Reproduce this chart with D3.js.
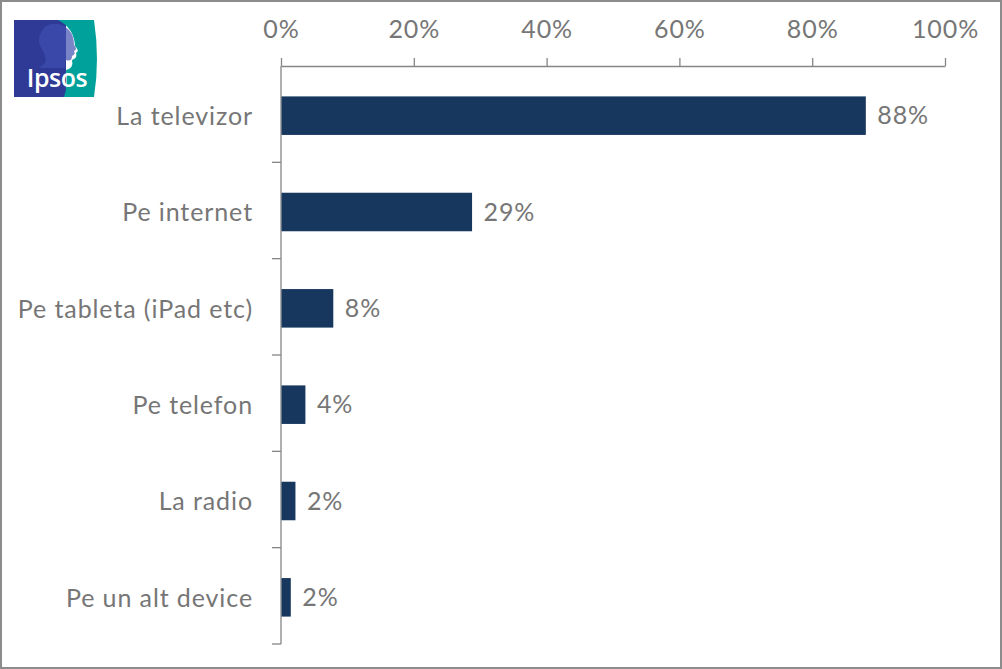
<!DOCTYPE html>
<html><head><meta charset="utf-8">
<script src="https://cdn.jsdelivr.net/npm/d3@7"></script>
<style>body{margin:0;background:#fff}svg{display:block}</style>
</head><body>
<svg id="chart" width="1002" height="669"></svg>
<script>
const categories = ["La televizor","Pe internet","Pe tableta (iPad etc)","Pe telefon","La radio","Pe un alt device"];
const values = [88.0, 28.7, 7.8, 3.6, 2.1, 1.4];
const valueLabels = ["88%","29%","8%","4%","2%","2%"];
const tickValues = [0,20,40,60,80,100];
const tickLabels = ["0%","20%","40%","60%","80%","100%"];

const svg = d3.select("#chart");
const W = 1002, H = 669;
const font = "Lato, 'Open Sans', sans-serif";
const textColor = "#767676", axisColor = "#868686";
const fs = 25, ls = 0.9;

svg.append("rect").attr("x",1).attr("y",1).attr("width",W-2).attr("height",H-2)
  .attr("fill","#fff").attr("stroke","#8c8c8c").attr("stroke-width",2);

const x0 = 281, x1 = 945, yTop = 66, yBot = 644;
const x = d3.scaleLinear().domain([0,100]).range([x0,x1]);
const y = d3.scaleBand().domain(categories).range([yTop+1.5,yBot+1.5]).paddingInner(0.6).paddingOuter(0.3);
const yb = d3.scaleBand().domain(categories).range([yTop,yBot]);

// top axis
const gx = svg.append("g").attr("transform",`translate(0,${yTop})`)
  .call(d3.axisTop(x).tickValues(tickValues).tickFormat((d,i)=>tickLabels[i]).tickSizeInner(8).tickSizeOuter(0).tickPadding(20));
gx.select(".domain").attr("stroke",axisColor).attr("stroke-width",1.3);
gx.selectAll(".tick line").attr("stroke",axisColor).attr("stroke-width",1.3);
gx.selectAll("text").attr("fill",textColor).attr("font-family",font).attr("font-size",fs).attr("letter-spacing",ls);

// left axis
const gy = svg.append("g").attr("transform",`translate(${x0},0)`);
gy.append("line").attr("x1",0).attr("x2",0).attr("y1",yTop).attr("y2",yBot).attr("stroke",axisColor).attr("stroke-width",1.3);
const bounds = categories.map(c=>yb(c)+yb.bandwidth());
gy.selectAll("line.tk").data(bounds).join("line").attr("class","tk")
  .attr("x1",-9).attr("x2",0).attr("y1",d=>d).attr("y2",d=>d).attr("stroke",axisColor).attr("stroke-width",1.3);
gy.selectAll("text").data(categories).join("text")
  .attr("x",-28).attr("y",d=>yb(d)+yb.bandwidth()/2+2).attr("dy","0.35em")
  .attr("text-anchor","end").attr("fill",textColor).attr("font-family",font).attr("font-size",fs).attr("letter-spacing",ls).text(d=>d);

// bars
svg.append("g").selectAll("rect").data(values).join("rect")
  .attr("x",x0+0.5).attr("y",(d,i)=>y(categories[i])).attr("height",y.bandwidth())
  .attr("width",d=>x(d)-x0).attr("fill","#17375E");
svg.append("g").selectAll("text").data(values).join("text")
  .attr("x",d=>x(d)+12).attr("y",(d,i)=>y(categories[i])+y.bandwidth()/2).attr("dy","0.35em")
  .attr("fill",textColor).attr("font-family",font).attr("font-size",fs).attr("letter-spacing",ls).text((d,i)=>valueLabels[i]);

// logo
const logo = svg.append("g").attr("transform","translate(14,20)");
logo.append("rect").attr("width",52).attr("height",77).attr("fill","#2e3a96");
logo.append("path").attr("d","M44,0 L80,0 Q86,40 80,77 L50,77 Q54,66 52,50 Q60,48 58,40 Q64,38 62,33 Q66,31 61,26 Q60,8 44,0 Z").attr("fill","#00a19a");
logo.append("path").attr("d","M44,4 Q32,2 27,12 Q22,22 29,31 Q33,38 31,43 Q28,46 25,48 L52,48 Q50,44 52,40 Q58,42 58,36 Q62,34 60,31 Q64,29 60,25 Q60,8 44,4 Z").attr("fill","#3f4fb0").attr("opacity",0.7);
logo.append("text").attr("x",43).attr("y",67).attr("text-anchor","middle").attr("fill","#fff")
  .attr("font-family","'Open Sans', sans-serif").attr("font-weight",600).attr("font-size",25).attr("letter-spacing",-0.5).text("Ipsos");
</script>
</body></html>
